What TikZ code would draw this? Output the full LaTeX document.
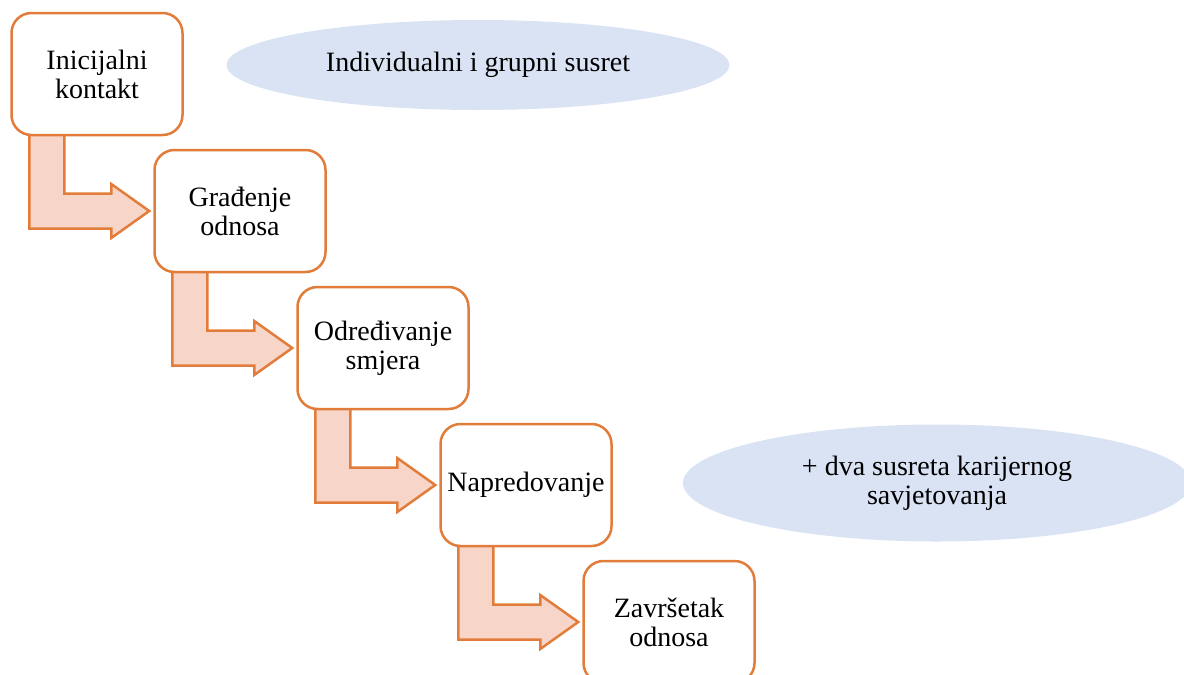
\documentclass[tikz,border=0pt]{standalone}
\usepackage{fontspec}
\setmainfont{Liberation Serif}
\usetikzlibrary{calc,shapes.geometric,backgrounds}
\definecolor{stageline}{RGB}{226,124,58}
\definecolor{arrowfill}{RGB}{247,214,201}
\definecolor{notefill}{RGB}{218,227,243}
\def\hstep{143}
\def\vstep{137}
\tikzset{
    stagebox/.style={draw=stageline, line width=2.5pt, fill=white, rounded corners=20pt,
        minimum width=171pt, minimum height=122pt, align=center,
        font=\fontsize{28}{29}\selectfont},
    notebubble/.style={ellipse, fill=notefill, inner sep=0pt, align=center,
        font=\fontsize{28}{29}\selectfont},
    bendarrow/.style={draw=stageline, line width=2.5pt, fill=arrowfill, line join=miter}
}
\newcommand{\stage}[3]{
    \node[stagebox] (#1) at (#2*\hstep+97, #2*\vstep+74) {#3};
}
\newcommand{\bend}[2]{
    \draw[bendarrow] ($(#1.south west)+(19,-4)$) coordinate (#1s)
        -- ($(#1s |- #2.west)+(0,17.5)$) -- ($(#2.west)+(-42,17.5)$)
        -- ($(#2.west)+(-42,27)$) -- ($(#2.west)+(-4,0)$)
        -- ($(#2.west)+(-42,-27)$) -- ($(#2.west)+(-42,-17.5)$)
        -- ($(#1s |- #2.west)+(35,-17.5)$) -- ($(#1s)+(35,0)$) -- cycle;
}

\begin{document}
\begin{tikzpicture}[x=1pt,y=-1pt]
    \useasboundingbox (0,0) rectangle (1184,675);
    \stage{start}{0}{Inicijalni\\kontakt}
    \stage{bond}{1}{Građenje\\odnosa}
    \stage{aim}{2}{Određivanje\\smjera}
    \stage{prog}{3}{Napredovanje}
    \stage{close}{4}{Završetak\\odnosa}
    \begin{scope}[on background layer]
        \bend{start}{bond}
        \bend{bond}{aim}
        \bend{aim}{prog}
        \bend{prog}{close}
    \end{scope}
    \node[notebubble, minimum width=503pt, minimum height=90pt] (meet) at (478,65)
        {Individualni i grupni susret};
    \node[notebubble, minimum width=508pt, minimum height=117pt] (career) at (937,483)
        {+ dva susreta karijernog\\savjetovanja};
\end{tikzpicture}
\end{document}
